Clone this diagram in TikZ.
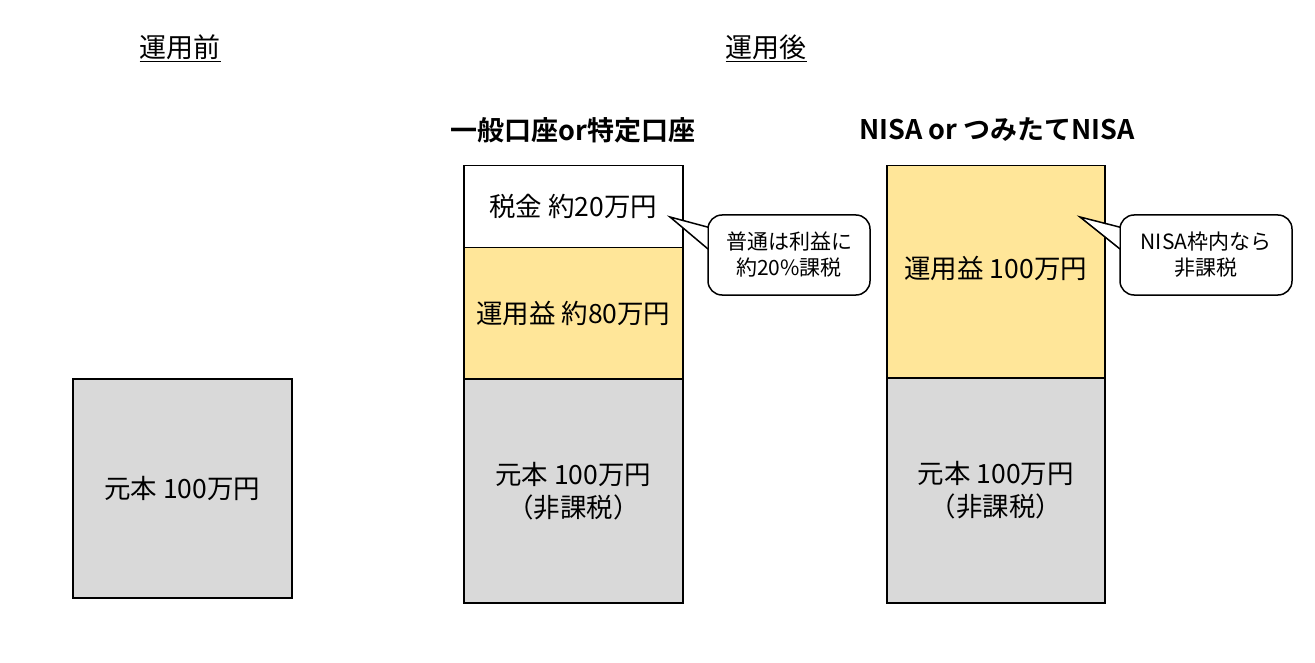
\documentclass[tikz,border=0pt]{standalone}
\usepackage{fontspec}
\setmainfont{Noto Sans CJK JP}[BoldFont={Noto Sans CJK JP Bold}]
\definecolor{princ}{HTML}{D9D9D9}
\definecolor{gain}{HTML}{FFE699}
\tikzset{
  blk/.style={draw=black, line width=1.5pt, minimum width=219pt, inner sep=0pt, align=center, font=\fontsize{26.5}{33}\selectfont, anchor=north west},
  callout/.style={draw=black, line width=1.5pt, fill=white, rounded corners=14pt, minimum width=162pt, minimum height=80pt, inner sep=0pt, align=center, font=\fontsize{21}{26}\selectfont},
  ttl/.style={font=\fontsize{27}{30}\selectfont, inner sep=0pt},
  hdr/.style={font=\fontsize{27}{30}\selectfont\bfseries, inner sep=0pt},
}
\begin{document}
\begin{tikzpicture}[x=1pt,y=-1pt]
\useasboundingbox (0,0) rectangle (1315,663);
% titles
\node[ttl] (before) at (180,48) {\underline{運用前}};
\node[ttl] (after) at (766,48) {\underline{運用後}};
\node[hdr] (h1) at (573,130) {一般口座or特定口座};
\node[hdr] (h2) at (997,130) {NISA or つみたてNISA};
% left
\node[blk, fill=princ, minimum height=219pt] (p0) at (72,378) {元本 100万円};
% middle
\node[blk, fill=white, minimum height=82pt] (tax) at (463,165) {税金 約20万円};
\node[blk, fill=gain, minimum height=131pt] (g1) at (463,247) {運用益 約80万円};
\node[blk, fill=princ, minimum height=224pt] (p1) at (463,378) {元本 100万円\\（非課税）};
% right
\node[blk, fill=gain, minimum height=212pt, minimum width=218pt] (g2) at (886,165) {\raisebox{8pt}{運用益 100万円}};
\node[blk, fill=princ, minimum height=225pt, minimum width=218pt] (p2) at (886,377) {元本 100万円\\（非課税）};
% callouts
\node[callout] (c1) at (789,255) {普通は利益に\\約20\%課税};
\coordinate (t1) at (670,217);
\fill[white] ([yshift=-14pt]c1.north west) -- (t1) -- ([yshift=7pt]c1.west) -- cycle;
\draw[line width=1.5pt, line join=miter] ([yshift=-13pt,xshift=1pt]c1.north west) -- (t1) -- ([yshift=6pt,xshift=0.75pt]c1.west);
\node[callout, minimum width=172pt] (c2) at (1206,255) {NISA枠内なら\\非課税};
\coordinate (t2) at (1080,217);
\fill[white] ([yshift=-14pt]c2.north west) -- (t2) -- ([yshift=7pt]c2.west) -- cycle;
\draw[line width=1.5pt, line join=miter] ([yshift=-13pt,xshift=1pt]c2.north west) -- (t2) -- ([yshift=6pt,xshift=0.75pt]c2.west);
\end{tikzpicture}
\end{document}
